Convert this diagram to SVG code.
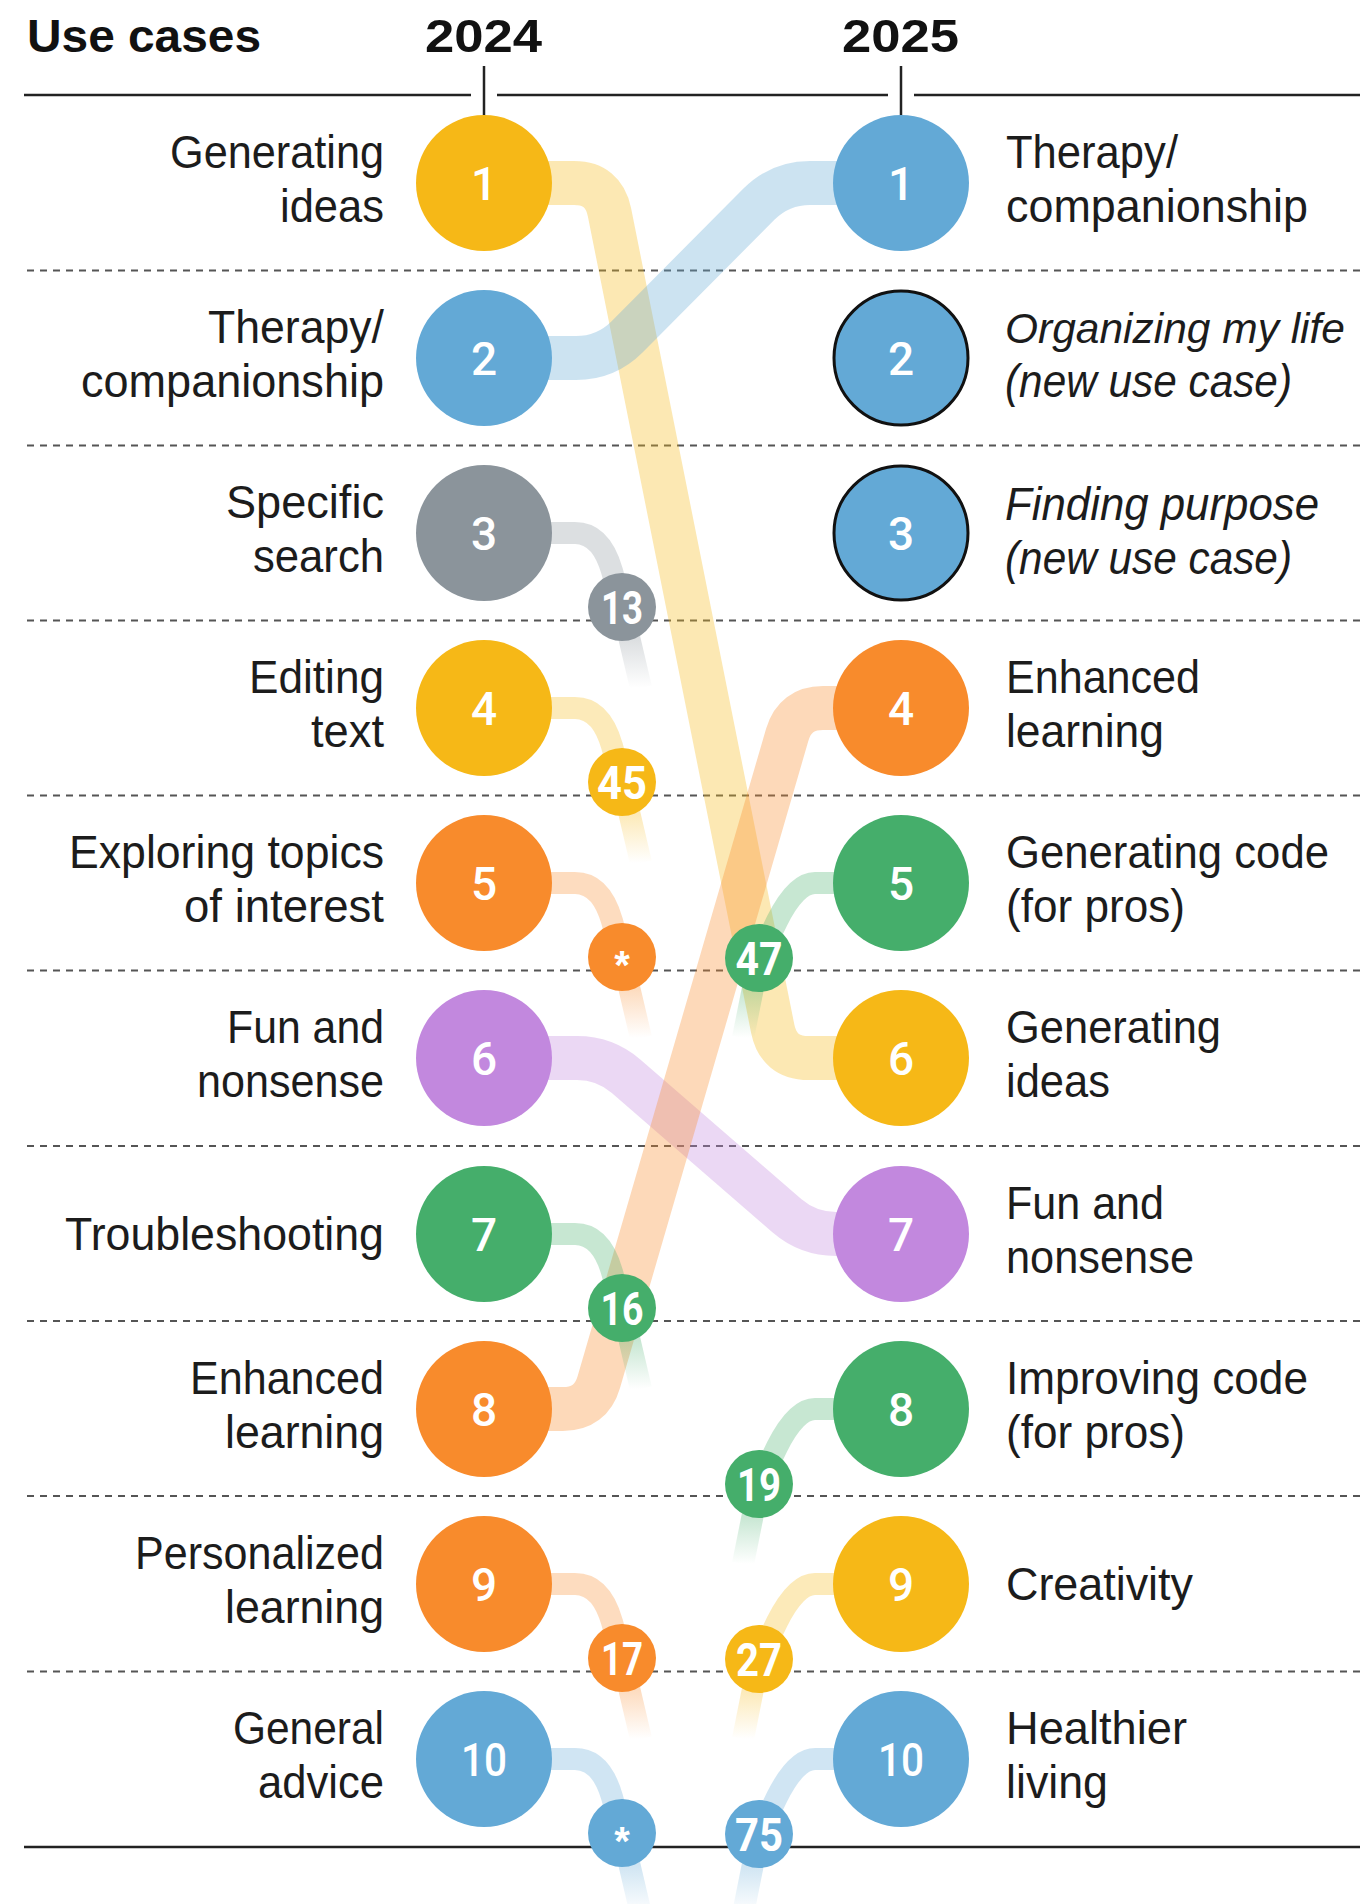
<svg xmlns="http://www.w3.org/2000/svg" width="1365" height="1904" viewBox="0 0 1365 1904">
<style>
.lbl{font-family:"Liberation Sans",Arial,sans-serif;font-size:46px;fill:#1c1c1c}
.l{text-anchor:end}
.it{font-style:italic}
.hdr{font-family:"Liberation Sans",Arial,sans-serif;font-weight:bold;font-size:46px;fill:#111}
.num{font-family:Roboto,"Liberation Sans",sans-serif;font-weight:500;font-size:46px;fill:#fff;text-anchor:middle}
.bnum{font-family:Roboto,"Liberation Sans",sans-serif;font-weight:700;font-size:46px;fill:#fff;text-anchor:middle}
.ast{font-family:"Liberation Sans",sans-serif;font-weight:bold;font-size:40px;fill:#fff;text-anchor:middle}
.dash{stroke:#555;stroke-width:2;stroke-dasharray:7 6;fill:none}
.rule{stroke:#222;stroke-width:2.5;fill:none}
.main{fill:none;stroke-width:44;stroke-opacity:0.33}
.thin{fill:none;stroke-width:22;stroke-opacity:0.3}
.tail{fill:none;stroke-width:22;stroke-opacity:0.3}
.yel{fill:#F6B817}.blu{fill:#63A9D6}.gry{fill:#8B949B}.org{fill:#F88B2C}.pur{fill:#C288DE}.grn{fill:#45AE6B}
.new{stroke:#111;stroke-width:3}
</style>
<defs>
<linearGradient id="fGray" x1="0" y1="0" x2="0" y2="1"><stop offset="0" stop-color="#8B949B"/><stop offset="0.4" stop-color="#8B949B"/><stop offset="1" stop-color="#8B949B" stop-opacity="0"/></linearGradient>
<linearGradient id="fYel" x1="0" y1="0" x2="0" y2="1"><stop offset="0" stop-color="#F6B817"/><stop offset="0.4" stop-color="#F6B817"/><stop offset="1" stop-color="#F6B817" stop-opacity="0"/></linearGradient>
<linearGradient id="fOrg" x1="0" y1="0" x2="0" y2="1"><stop offset="0" stop-color="#F88B2C"/><stop offset="0.4" stop-color="#F88B2C"/><stop offset="1" stop-color="#F88B2C" stop-opacity="0"/></linearGradient>
<linearGradient id="fGrn" x1="0" y1="0" x2="0" y2="1"><stop offset="0" stop-color="#45AE6B"/><stop offset="0.4" stop-color="#45AE6B"/><stop offset="1" stop-color="#45AE6B" stop-opacity="0"/></linearGradient>
<linearGradient id="fBlu" x1="0" y1="0" x2="0" y2="1"><stop offset="0" stop-color="#63A9D6"/><stop offset="0.4" stop-color="#63A9D6"/><stop offset="1" stop-color="#63A9D6" stop-opacity="0"/></linearGradient>
</defs>
<rect width="1365" height="1904" fill="#fff"/>

<g id="header">
<text class="hdr" x="27" y="52" textLength="234" lengthAdjust="spacingAndGlyphs">Use cases</text>
<text class="hdr" x="425" y="52" textLength="117" lengthAdjust="spacingAndGlyphs">2024</text>
<text class="hdr" x="842" y="52" textLength="117" lengthAdjust="spacingAndGlyphs">2025</text>
<line class="rule" x1="24" y1="95" x2="471" y2="95"/>
<line class="rule" x1="497" y1="95" x2="888" y2="95"/>
<line class="rule" x1="914" y1="95" x2="1360" y2="95"/>
<line class="rule" x1="484" y1="66" x2="484" y2="118" stroke-width="2"/>
<line class="rule" x1="901" y1="66" x2="901" y2="118" stroke-width="2"/>
</g>

<g id="gridlines">
<line class="dash" x1="27" y1="270.5" x2="1360" y2="270.5"/>
<line class="dash" x1="27" y1="445.5" x2="1360" y2="445.5"/>
<line class="dash" x1="27" y1="620.5" x2="1360" y2="620.5"/>
<line class="dash" x1="27" y1="795.5" x2="1360" y2="795.5"/>
<line class="dash" x1="27" y1="970.5" x2="1360" y2="970.5"/>
<line class="dash" x1="27" y1="1146" x2="1360" y2="1146"/>
<line class="dash" x1="27" y1="1321" x2="1360" y2="1321"/>
<line class="dash" x1="27" y1="1496" x2="1360" y2="1496"/>
<line class="dash" x1="27" y1="1671.5" x2="1360" y2="1671.5"/>
<line class="rule" x1="24" y1="1847" x2="1360" y2="1847"/>
</g>

<g id="connectors">
<path class="main" stroke="#F6B817" d="M 484 183 L 574 183 Q 603.6 183 609.5 212.4 L 772.7 1028.6 Q 778.6 1058 808.6 1058 L 901 1058"/>
<path class="main" stroke="#63A9D6" d="M 484 358 L 576 358 Q 606 358 627.2 336.7 L 758.8 204.3 Q 780 183 810 183 L 901 183"/>
<path class="main" stroke="#C288DE" d="M 484 1058 L 577 1058 Q 605 1058 626.2 1076.3 L 786.8 1215.7 Q 808 1234 836 1234 L 901 1234"/>
<path class="main" stroke="#F88B2C" d="M 484 1409 L 563 1409 Q 591 1409 598.8 1382.1 L 787.2 734.9 Q 795 708 823 708 L 901 708"/>
<path class="thin" stroke="#8B949B" d="M 484 533 L 575 533 Q 601 533 612 571 L 622 607"/>
<path class="tail" stroke="url(#fGray)" d="M 622 607 L 641 688"/>
<path class="thin" stroke="#F6B817" d="M 484 708 L 575 708 Q 601 708 612 746 L 622 782"/>
<path class="tail" stroke="url(#fYel)" d="M 622 782 L 641 863"/>
<path class="thin" stroke="#F88B2C" d="M 484 883 L 575 883 Q 601 883 612 921 L 622 957"/>
<path class="tail" stroke="url(#fOrg)" d="M 622 957 L 641 1038"/>
<path class="thin" stroke="#45AE6B" d="M 484 1234 L 575 1234 Q 601 1234 612 1272 L 622 1308"/>
<path class="tail" stroke="url(#fGrn)" d="M 622 1308 L 641 1389"/>
<path class="thin" stroke="#F88B2C" d="M 484 1584 L 575 1584 Q 601 1584 612 1622 L 622 1658"/>
<path class="tail" stroke="url(#fOrg)" d="M 622 1658 L 641 1739"/>
<path class="thin" stroke="#63A9D6" d="M 484 1759 L 575 1759 Q 601 1759 612 1797 L 622 1833"/>
<path class="tail" stroke="url(#fBlu)" d="M 622 1833 L 641 1914"/>
<path class="thin" stroke="#45AE6B" d="M 901 883 L 815 883 Q 796 883 777 921 L 759 958"/>
<path class="tail" stroke="url(#fGrn)" d="M 759 958 L 743 1038"/>
<path class="thin" stroke="#45AE6B" d="M 901 1409 L 815 1409 Q 796 1409 777 1447 L 759 1484"/>
<path class="tail" stroke="url(#fGrn)" d="M 759 1484 L 743 1564"/>
<path class="thin" stroke="#F6B817" d="M 901 1584 L 815 1584 Q 796 1584 777 1622 L 759 1659"/>
<path class="tail" stroke="url(#fYel)" d="M 759 1659 L 743 1739"/>
<path class="thin" stroke="#63A9D6" d="M 901 1759 L 815 1759 Q 796 1759 777 1797 L 759 1834"/>
<path class="tail" stroke="url(#fBlu)" d="M 759 1834 L 743 1914"/>
</g>

<g id="badges">
<g id="badge-13"><circle class="gry" cx="622" cy="607" r="34"/><text class="bnum" x="622" y="624" textLength="42" lengthAdjust="spacingAndGlyphs">13</text></g>
<g id="badge-45"><circle class="yel" cx="622" cy="782" r="34"/><text class="bnum" x="622" y="799" textLength="50" lengthAdjust="spacingAndGlyphs">45</text></g>
<g id="badge-star5"><circle class="org" cx="622" cy="957" r="34"/><text class="ast" x="622" y="979">*</text></g>
<g id="badge-16"><circle class="grn" cx="622" cy="1308" r="34"/><text class="bnum" x="622" y="1325" textLength="43" lengthAdjust="spacingAndGlyphs">16</text></g>
<g id="badge-17"><circle class="org" cx="622" cy="1658" r="34"/><text class="bnum" x="622" y="1675" textLength="42" lengthAdjust="spacingAndGlyphs">17</text></g>
<g id="badge-star10"><circle class="blu" cx="622" cy="1833" r="34"/><text class="ast" x="622" y="1855">*</text></g>
<g id="badge-47"><circle class="grn" cx="759" cy="958" r="34"/><text class="bnum" x="759" y="975" textLength="47" lengthAdjust="spacingAndGlyphs">47</text></g>
<g id="badge-19"><circle class="grn" cx="759" cy="1484" r="34"/><text class="bnum" x="759" y="1501" textLength="44" lengthAdjust="spacingAndGlyphs">19</text></g>
<g id="badge-27"><circle class="yel" cx="759" cy="1659" r="34"/><text class="bnum" x="759" y="1676" textLength="46" lengthAdjust="spacingAndGlyphs">27</text></g>
<g id="badge-75"><circle class="blu" cx="759" cy="1834" r="34"/><text class="bnum" x="759" y="1851" textLength="48" lengthAdjust="spacingAndGlyphs">75</text></g>
</g>

<g id="nodes-2024">
<g id="n24-1"><circle class="yel" cx="484" cy="183" r="68"/><text class="num" x="484" y="200">1</text>
<text class="lbl l" x="384" y="168" textLength="214" lengthAdjust="spacingAndGlyphs">Generating</text><text class="lbl l" x="384" y="222" textLength="104" lengthAdjust="spacingAndGlyphs">ideas</text></g>
<g id="n24-2"><circle class="blu" cx="484" cy="358" r="68"/><text class="num" x="484" y="375">2</text>
<text class="lbl l" x="384" y="343" textLength="176" lengthAdjust="spacingAndGlyphs">Therapy/</text><text class="lbl l" x="384" y="397" textLength="303" lengthAdjust="spacingAndGlyphs">companionship</text></g>
<g id="n24-3"><circle class="gry" cx="484" cy="533" r="68"/><text class="num" x="484" y="550">3</text>
<text class="lbl l" x="384" y="518" textLength="158" lengthAdjust="spacingAndGlyphs">Specific</text><text class="lbl l" x="384" y="572" textLength="131" lengthAdjust="spacingAndGlyphs">search</text></g>
<g id="n24-4"><circle class="yel" cx="484" cy="708" r="68"/><text class="num" x="484" y="725">4</text>
<text class="lbl l" x="384" y="693" textLength="135" lengthAdjust="spacingAndGlyphs">Editing</text><text class="lbl l" x="384" y="747" textLength="73" lengthAdjust="spacingAndGlyphs">text</text></g>
<g id="n24-5"><circle class="org" cx="484" cy="883" r="68"/><text class="num" x="484" y="900">5</text>
<text class="lbl l" x="384" y="868" textLength="315" lengthAdjust="spacingAndGlyphs">Exploring topics</text><text class="lbl l" x="384" y="922" textLength="200" lengthAdjust="spacingAndGlyphs">of interest</text></g>
<g id="n24-6"><circle class="pur" cx="484" cy="1058" r="68"/><text class="num" x="484" y="1075">6</text>
<text class="lbl l" x="384" y="1043" textLength="157" lengthAdjust="spacingAndGlyphs">Fun and</text><text class="lbl l" x="384" y="1097" textLength="187" lengthAdjust="spacingAndGlyphs">nonsense</text></g>
<g id="n24-7"><circle class="grn" cx="484" cy="1234" r="68"/><text class="num" x="484" y="1251">7</text>
<text class="lbl l" x="384" y="1250" textLength="319" lengthAdjust="spacingAndGlyphs">Troubleshooting</text></g>
<g id="n24-8"><circle class="org" cx="484" cy="1409" r="68"/><text class="num" x="484" y="1426">8</text>
<text class="lbl l" x="384" y="1394" textLength="194" lengthAdjust="spacingAndGlyphs">Enhanced</text><text class="lbl l" x="384" y="1448" textLength="159" lengthAdjust="spacingAndGlyphs">learning</text></g>
<g id="n24-9"><circle class="org" cx="484" cy="1584" r="68"/><text class="num" x="484" y="1601">9</text>
<text class="lbl l" x="384" y="1569" textLength="249" lengthAdjust="spacingAndGlyphs">Personalized</text><text class="lbl l" x="384" y="1623" textLength="159" lengthAdjust="spacingAndGlyphs">learning</text></g>
<g id="n24-10"><circle class="blu" cx="484" cy="1759" r="68"/><text class="num" x="484" y="1776" textLength="46" lengthAdjust="spacingAndGlyphs">10</text>
<text class="lbl l" x="384" y="1744" textLength="151" lengthAdjust="spacingAndGlyphs">General</text><text class="lbl l" x="384" y="1798" textLength="126" lengthAdjust="spacingAndGlyphs">advice</text></g>
</g>

<g id="nodes-2025">
<g id="n25-1"><circle class="blu" cx="901" cy="183" r="68"/><text class="num" x="901" y="200">1</text>
<text class="lbl" x="1006" y="168" textLength="172" lengthAdjust="spacingAndGlyphs">Therapy/</text><text class="lbl" x="1006" y="222" textLength="302" lengthAdjust="spacingAndGlyphs">companionship</text></g>
<g id="n25-2"><circle class="blu new" cx="901" cy="358" r="67"/><text class="num" x="901" y="375">2</text>
<text class="lbl it" x="1005" y="343" style="font-size:43px" textLength="340" lengthAdjust="spacingAndGlyphs">Organizing my life</text><text class="lbl it" x="1005" y="397" textLength="287" lengthAdjust="spacingAndGlyphs">(new use case)</text></g>
<g id="n25-3"><circle class="blu new" cx="901" cy="533" r="67"/><text class="num" x="901" y="550">3</text>
<text class="lbl it" x="1005" y="520" textLength="314" lengthAdjust="spacingAndGlyphs">Finding purpose</text><text class="lbl it" x="1005" y="574" textLength="287" lengthAdjust="spacingAndGlyphs">(new use case)</text></g>
<g id="n25-4"><circle class="org" cx="901" cy="708" r="68"/><text class="num" x="901" y="725">4</text>
<text class="lbl" x="1006" y="693" textLength="194" lengthAdjust="spacingAndGlyphs">Enhanced</text><text class="lbl" x="1006" y="747" textLength="158" lengthAdjust="spacingAndGlyphs">learning</text></g>
<g id="n25-5"><circle class="grn" cx="901" cy="883" r="68"/><text class="num" x="901" y="900">5</text>
<text class="lbl" x="1006" y="868" textLength="323" lengthAdjust="spacingAndGlyphs">Generating code</text><text class="lbl" x="1006" y="922" textLength="179" lengthAdjust="spacingAndGlyphs">(for pros)</text></g>
<g id="n25-6"><circle class="yel" cx="901" cy="1058" r="68"/><text class="num" x="901" y="1075">6</text>
<text class="lbl" x="1006" y="1043" textLength="215" lengthAdjust="spacingAndGlyphs">Generating</text><text class="lbl" x="1006" y="1097" textLength="104" lengthAdjust="spacingAndGlyphs">ideas</text></g>
<g id="n25-7"><circle class="pur" cx="901" cy="1234" r="68"/><text class="num" x="901" y="1251">7</text>
<text class="lbl" x="1006" y="1219" textLength="158" lengthAdjust="spacingAndGlyphs">Fun and</text><text class="lbl" x="1006" y="1273" textLength="188" lengthAdjust="spacingAndGlyphs">nonsense</text></g>
<g id="n25-8"><circle class="grn" cx="901" cy="1409" r="68"/><text class="num" x="901" y="1426">8</text>
<text class="lbl" x="1006" y="1394" textLength="302" lengthAdjust="spacingAndGlyphs">Improving code</text><text class="lbl" x="1006" y="1448" textLength="179" lengthAdjust="spacingAndGlyphs">(for pros)</text></g>
<g id="n25-9"><circle class="yel" cx="901" cy="1584" r="68"/><text class="num" x="901" y="1601">9</text>
<text class="lbl" x="1006" y="1600" textLength="187" lengthAdjust="spacingAndGlyphs">Creativity</text></g>
<g id="n25-10"><circle class="blu" cx="901" cy="1759" r="68"/><text class="num" x="901" y="1776" textLength="46" lengthAdjust="spacingAndGlyphs">10</text>
<text class="lbl" x="1006" y="1744" textLength="181" lengthAdjust="spacingAndGlyphs">Healthier</text><text class="lbl" x="1006" y="1798" textLength="102" lengthAdjust="spacingAndGlyphs">living</text></g>
</g>
</svg>
